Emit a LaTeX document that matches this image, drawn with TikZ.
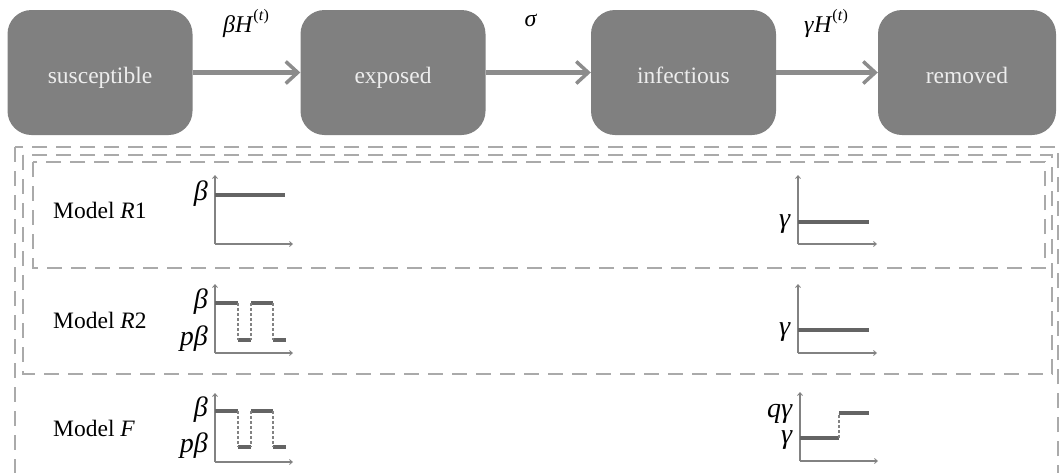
\documentclass[tikz,border=0pt]{standalone}
\usepackage{fontspec}
\setmainfont{Liberation Serif}
\usetikzlibrary{arrows.meta}
\definecolor{boxgray}{RGB}{128,128,128}
\definecolor{arrgray}{RGB}{140,140,140}
\definecolor{dashgray}{RGB}{170,170,170}
\definecolor{axgray}{RGB}{130,130,130}
\definecolor{lvlgray}{RGB}{100,100,100}
\newcommand\mi[1]{\textit{#1}}
\newcommand\Ht{\mi{H}\raisebox{0.5em}{\fontsize{16}{16}\selectfont(\mi{t})}}
\tikzset{
  state/.style={rectangle, rounded corners=24pt, fill=boxgray, draw=none,
    minimum width=185pt, minimum height=125pt, text=white!93!black,
    text height=26pt, text depth=5pt,
    font=\fontsize{23.5}{28}\selectfont},
  flow/.style={draw=arrgray, line width=5pt,
    -{Straight Barb[length=12pt,width=22pt,line width=3.5pt]}},
  rate/.style={font=\fontsize{24}{28}\selectfont, inner sep=0pt},
  frame/.style={draw=dashgray, line width=1.5pt, dash pattern=on 15pt off 9pt},
  axis/.style={draw=axgray, line width=1.2pt, -{Straight Barb[length=3pt,width=5pt,line width=0.8pt]}},
  level/.style={draw=lvlgray, line width=4.5pt},
  jump/.style={draw=axgray, line width=1.2pt, dash pattern=on 3pt off 2pt},
  lab/.style={font=\fontsize{28}{32}\selectfont, inner sep=0pt, anchor=east},
  model/.style={font=\fontsize{23.5}{28}\selectfont, inner sep=0pt, anchor=west},
}
\begin{document}
\begin{tikzpicture}[x=1pt,y=-1pt]
\clip (0,0) rectangle (1062,472);
\fill[white] (0,0) rectangle (1062,472);
% compartments
\node[state] (S) at (100,72.5) {susceptible};
\node[state] (E) at (393,72.5) {exposed};
\node[state] (I) at (683.5,72.5) {infectious};
\node[state, minimum width=178pt] (R) at (967,72.5) {removed};
\draw[flow] (S) -- (E);
\draw[flow] (E) -- (I);
\draw[flow] (I) -- (R);
\node[rate] (l1) at (246,24) {\mi{β}\Ht};
\node[rate] (l2) at (531,20) {\mi{σ}};
\node[rate] (l3) at (826,24) {\mi{γ}\Ht};
% frames
\draw[frame] (15,147) rectangle (1058,500);
\draw[frame] (23,155) rectangle (1052,374);
\draw[frame] (33,162) rectangle (1045,268);
% models
\node[model] (m1) at (53,210) {Model \mi{R}1};
\node[model] (m2) at (53,320) {Model \mi{R}2};
\node[model] (m3) at (53,428) {Model \mi{F}};
% ---- R1 left
\coordinate (a1) at (215,244);
\draw[axis] (a1) -- ++(0,-69);
\draw[axis] (a1) -- ++(78,0);
\draw[level] (215,195) -- (285,195);
\node[lab] (b1) at (208,194) {\mi{β}};
% ---- R1 right
\coordinate (c1) at (798,244);
\draw[axis] (c1) -- ++(0,-69);
\draw[axis] (c1) -- ++(79,0);
\draw[level] (798,222) -- (869,222);
\node[lab] (g1) at (791,224) {\mi{γ}};
% ---- R2 left
\coordinate (a2) at (215,353);
\draw[axis] (a2) -- ++(0,-69);
\draw[axis] (a2) -- ++(78,0);
\draw[level] (215,303) -- (238,303);
\draw[level] (238,340) -- (251,340);
\draw[level] (251,303) -- (273,303);
\draw[level] (273,340) -- (286,340);
\draw[jump] (238,303) -- (238,340);
\draw[jump] (251,303) -- (251,340);
\draw[jump] (273,303) -- (273,340);
\node[lab] (b2) at (208,302) {\mi{β}};
\node[lab] (p2) at (208,339) {\mi{pβ}};
% ---- R2 right
\coordinate (c2) at (798,353);
\draw[axis] (c2) -- ++(0,-69);
\draw[axis] (c2) -- ++(79,0);
\draw[level] (798,330) -- (869,330);
\node[lab] (g2) at (791,332) {\mi{γ}};
% ---- F left
\coordinate (a3) at (215,462);
\draw[axis] (a3) -- ++(0,-69);
\draw[axis] (a3) -- ++(78,0);
\draw[level] (215,411) -- (238,411);
\draw[level] (238,447) -- (251,447);
\draw[level] (251,411) -- (273,411);
\draw[level] (273,447) -- (286,447);
\draw[jump] (238,411) -- (238,447);
\draw[jump] (251,411) -- (251,447);
\draw[jump] (273,411) -- (273,447);
\node[lab] (b3) at (208,410) {\mi{β}};
\node[lab] (p3) at (208,446) {\mi{pβ}};
% ---- F right
\coordinate (c3) at (800,461);
\draw[axis] (c3) -- ++(0,-69);
\draw[axis] (c3) -- ++(78,0);
\draw[level] (800,438) -- (839,438);
\draw[level] (839,413) -- (869,413);
\draw[jump] (839,438) -- (839,413);
\node[lab] (g3) at (793,440) {\mi{γ}};
\node[lab] (q3) at (793,414) {\mi{qγ}};
\end{tikzpicture}
\end{document}
